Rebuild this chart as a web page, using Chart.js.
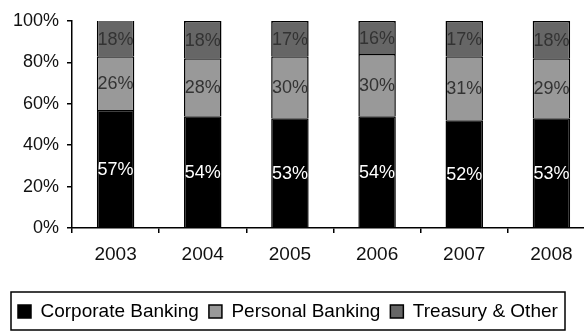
<!DOCTYPE html>
<html>
<head>
<meta charset="utf-8">
<script src="https://cdn.jsdelivr.net/npm/chart.js@4"></script>
<style>
  html, body { margin: 0; padding: 0; background: #fff; overflow: hidden; }
  #wrap { width: 595px; height: 332px; }
</style>
</head>
<body>
<div id="wrap"><canvas id="chart"></canvas></div>
<script>
// revenue mix by business line, share of total (%)
const years = ['2003', '2004', '2005', '2006', '2007', '2008'];
const corporate = [57, 54, 53, 54, 52, 53];
const personal = [26, 28, 30, 30, 31, 29];
const treasury = [18, 18, 17, 16, 17, 18];
const yTicks = [0, 20, 40, 60, 80, 100];

const FONT = 'Arial, "Liberation Sans", sans-serif';

// writes the value in the middle of each stacked segment
const segmentLabels = {
  id: 'segmentLabels',
  afterDatasetsDraw(chart) {
    const ctx = chart.ctx;
    const area = chart.chartArea;
    ctx.save();
    ctx.textAlign = 'center';
    ctx.textBaseline = 'middle';
    ctx.font = '18px ' + FONT;
    chart.data.datasets.forEach((ds, i) => {
      const meta = chart.getDatasetMeta(i);
      meta.data.forEach((bar, j) => {
        const top = Math.max(bar.y, area.top);
        const y = (top + bar.base) / 2 + 1;
        ctx.fillStyle = ds.labelColor;
        ctx.fillText(ds.data[j] + '%', bar.x, y);
      });
    });
    ctx.restore();
  }
};

// frame around the legend
const legendFrame = {
  id: 'legendFrame',
  afterDraw(chart) {
    const lg = chart.legend;
    if (!lg) return;
    const ctx = chart.ctx;
    ctx.save();
    ctx.strokeStyle = '#000';
    ctx.lineWidth = 1.5;
    ctx.strokeRect(11, lg.top, 554, 38);
    ctx.restore();
  }
};

new Chart(document.getElementById('chart'), {
  type: 'bar',
  data: {
    labels: years,
    datasets: [
      {
        label: 'Corporate Banking',
        data: corporate,
        backgroundColor: '#000000',
        borderColor: '#000000',
        borderWidth: 1.5,
        labelColor: '#ffffff'
      },
      {
        label: 'Personal Banking',
        data: personal,
        backgroundColor: '#999999',
        borderColor: '#000000',
        borderWidth: 1.5,
        labelColor: '#333333'
      },
      {
        label: 'Treasury & Other',
        data: treasury,
        backgroundColor: '#666666',
        borderColor: '#000000',
        borderWidth: 1.5,
        labelColor: '#333333'
      }
    ]
  },
  options: {
    responsive: true,
    maintainAspectRatio: false,
    animation: false,
    events: [],
    layout: { padding: { top: 21, left: 8, right: 0, bottom: 1 } },
    datasets: {
      bar: { categoryPercentage: 1, barPercentage: 0.43 }
    },
    scales: {
      x: {
        stacked: true,
        afterFit(scale) { scale.height = 64; },
        grid: { display: true, drawOnChartArea: false, drawTicks: true, tickLength: 5, color: '#000', lineWidth: 1.5, offset: true },
        border: { color: '#000', width: 1.5 },
        ticks: { color: '#111', font: { family: FONT, size: 19 }, padding: 10 }
      },
      y: {
        stacked: true,
        min: 0,
        max: 100,
        afterFit(scale) { scale.width = 64; },
        afterBuildTicks(scale) {
          scale.ticks = yTicks.map(v => ({ value: v }));
        },
        grid: { display: true, drawOnChartArea: false, drawTicks: true, tickLength: 5, color: '#000', lineWidth: 1.5 },
        border: { color: '#000', width: 1.5 },
        ticks: {
          color: '#111',
          font: { family: FONT, size: 18 },
          padding: 8,
          callback: v => v + '%'
        }
      }
    },
    plugins: {
      legend: {
        position: 'bottom',
        align: 'start',
        labels: {
          color: '#111',
          font: { family: FONT, size: 19 },
          boxWidth: 13,
          boxHeight: 13,
          padding: 10,
          generateLabels(chart) {
            return chart.data.datasets.map((ds, i) => ({
              text: ds.label,
              fillStyle: ds.backgroundColor,
              strokeStyle: '#000',
              lineWidth: 1.5,
              datasetIndex: i,
              hidden: false
            }));
          }
        }
      },
      tooltip: { enabled: false }
    }
  },
  plugins: [segmentLabels, legendFrame]
});
</script>
</body>
</html>
